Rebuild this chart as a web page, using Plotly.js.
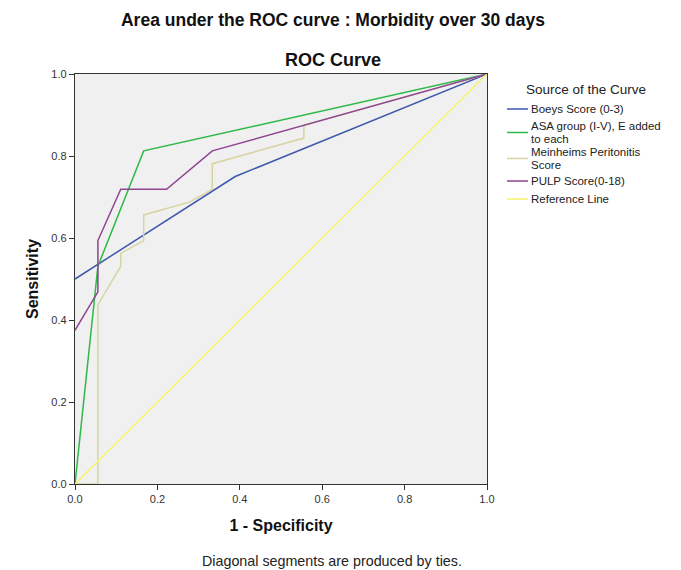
<!DOCTYPE html>
<html>
<head>
<meta charset="utf-8">
<script src="https://cdn.plot.ly/plotly-3.0.1.min.js"></script>
<style>html,body{margin:0;padding:0;background:#fff;}#chart{width:681px;height:570px;}</style>
</head>
<body>
<div id="chart"></div>
<script>
// Data: 1 - Specificity (x) and Sensitivity (y) for each ROC curve
const boeysX = [0, 0.3889, 1];
const boeysY = [0.5, 0.75, 1];

const asaX = [0, 0.0556, 0.1667, 1];
const asaY = [0, 0.53125, 0.8125, 1];

const meinX = [0, 0.0556, 0.0556, 0.1111, 0.1111, 0.1667, 0.1667, 0.2778, 0.3333, 0.3333, 0.5556, 0.5556, 1];
const meinY = [0, 0, 0.4375, 0.53125, 0.5625, 0.59375, 0.65625, 0.6875, 0.71875, 0.78125, 0.84375, 0.875, 1];

const pulpX = [0, 0.0556, 0.0556, 0.1111, 0.2222, 0.3333, 1];
const pulpY = [0.375, 0.46875, 0.59375, 0.71875, 0.71875, 0.8125, 1];

const refX = [0, 1];
const refY = [0, 1];

// Legend labels (each entry split into its wrapped lines)
const seriesNames = ["Boeys Score (0-3)", "ASA group (I-V), E added to each", "Meinheims Peritonitis Score", "PULP Score(0-18)", "Reference Line"];
const legendLines = [["Boeys Score (0-3)"], ["ASA group (I-V), E added", "to each"], ["Meinheims Peritonitis", "Score"], ["PULP Score(0-18)"], ["Reference Line"]];
const tickVals = [0, 0.2, 0.4, 0.6, 0.8, 1.0];

const colors = ["#3e58ac", "#2eb848", "#d8d3a2", "#8e4592", "#f7f36e"];
const xs = [boeysX, asaX, meinX, pulpX, refX];
const ys = [boeysY, asaY, meinY, pulpY, refY];

const traces = xs.map((x, i) => ({
  x: x, y: ys[i], type: "scatter", mode: "lines", name: seriesNames[i],
  line: {color: colors[i], width: 1.5},
  hoverinfo: "skip", showlegend: false
}));

const font = "Liberation Sans, Arial, sans-serif";
const L = 75, R = 487, T = 74, B = 484;
const W = 681, H = 570;
const px = v => (v - L) / (R - L);
const py = v => (B - v) / (B - T);

// Legend layout (pixel positions of entry text lines and symbol lines)
const legTextY = [[109], [126, 139], [152, 165], [181], [199]];
const legSymY = [109, 132.5, 158.5, 181, 199];
const legX0 = 507, legX1 = 528, legTextX = 530;

const shapes = [];
const annotations = [
  {text: "<b>ROC Curve</b>", xref: "paper", yref: "paper", x: px(333), y: py(60),
   xanchor: "center", yanchor: "middle", showarrow: false,
   font: {family: font, size: 18, color: "#111"}},
  {text: "Diagonal segments are produced by ties.", xref: "paper", yref: "paper",
   x: px(332), y: py(561), xanchor: "center", yanchor: "middle", showarrow: false,
   font: {family: font, size: 14.3, color: "#222"}},
  {text: "Source of the Curve", xref: "paper", yref: "paper", x: px(586), y: py(89),
   xanchor: "center", yanchor: "middle", showarrow: false,
   font: {family: font, size: 13.5, color: "#222"}}
];
legendLines.forEach((lines, i) => {
  shapes.push({type: "line", xref: "paper", yref: "paper",
    x0: px(legX0), x1: px(legX1), y0: py(legSymY[i]), y1: py(legSymY[i]),
    line: {color: colors[i], width: 1.5}});
  lines.forEach((t, j) => {
    annotations.push({text: t, xref: "paper", yref: "paper", x: px(legTextX), y: py(legTextY[i][j]),
      xanchor: "left", yanchor: "middle", showarrow: false, borderpad: 0,
      font: {family: font, size: 11.5, color: "#222"}});
  });
});

const layout = {
  width: W, height: H,
  margin: {l: L, r: W - R, t: T, b: H - B},
  paper_bgcolor: "#ffffff",
  plot_bgcolor: "#f0f0f0",
  font: {family: font, color: "#222"},
  showlegend: false,
  title: {
    text: "<b>Area under the ROC curve : Morbidity over 30 days</b>",
    font: {family: font, size: 17.5, color: "#111"},
    xref: "paper", x: px(333), xanchor: "center",
    yref: "container", y: 1 - 20 / H, yanchor: "middle"
  },
  xaxis: {
    range: [0, 1], tickvals: tickVals, tickformat: ".1f",
    showgrid: false, zeroline: false,
    showline: true, mirror: true, linecolor: "#333", linewidth: 1.2,
    ticks: "outside", ticklen: 5, tickcolor: "#333",
    tickfont: {family: font, size: 11, color: "#333"},
    title: {text: "<b>1 - Specificity</b>", font: {family: font, size: 16, color: "#111"}, standoff: 15},
    fixedrange: true
  },
  yaxis: {
    range: [0, 1], tickvals: tickVals, tickformat: ".1f",
    showgrid: false, zeroline: false,
    showline: true, mirror: true, linecolor: "#333", linewidth: 1.2,
    ticks: "outside", ticklen: 5, tickcolor: "#333",
    tickfont: {family: font, size: 11, color: "#333"},
    title: {text: "<b>Sensitivity</b>", font: {family: font, size: 16, color: "#111"}, standoff: 8},
    fixedrange: true
  },
  shapes: shapes,
  annotations: annotations
};

Plotly.newPlot("chart", traces, layout, {displayModeBar: false, staticPlot: true});
</script>
</body>
</html>
